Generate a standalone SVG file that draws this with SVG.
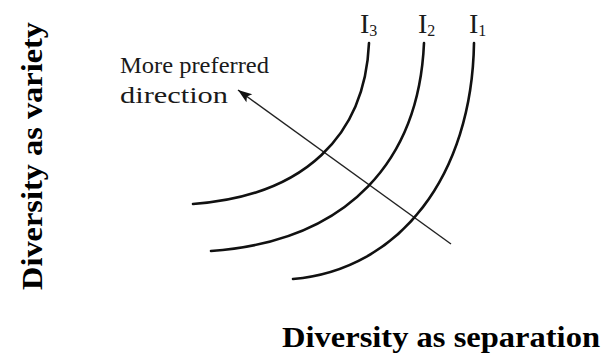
<svg xmlns="http://www.w3.org/2000/svg" width="603" height="358" viewBox="0 0 603 358">
<style>
.curve{fill:none;stroke:#111;stroke-width:2.6;stroke-linecap:round}
.arrow{fill:none;stroke:#222;stroke-width:1.4}
.lbl{font-family:"Liberation Serif",serif;fill:#1a1a1a}
.axis{font-family:"Liberation Serif",serif;font-weight:bold;fill:#000;font-size:30px}
</style>
<defs>
<marker id="ah" markerUnits="userSpaceOnUse" markerWidth="16" markerHeight="12" viewBox="-15 -6 16 12" refX="0" refY="0" orient="auto">
<path d="M0,0 L-14,-5 L-11,0 L-14,5 Z" fill="#111"/>
</marker>
</defs>
<rect width="603" height="358" fill="#fff"/>
<g id="connectors">
<line class="arrow" x1="451" y1="244" x2="238" y2="90" marker-end="url(#ah)"/>
</g>
<g id="curve-I3">
<path class="curve" d="M369,43 C365,135 305,196 193,204"/>
<text class="lbl" x="360" y="33" font-size="28">I<tspan font-size="16" dy="3">3</tspan></text>
</g>
<g id="curve-I2">
<path class="curve" d="M424,43 C419,158 351,241 211,251"/>
<text class="lbl" x="418" y="33" font-size="28">I<tspan font-size="16" dy="3">2</tspan></text>
</g>
<g id="curve-I1">
<path class="curve" d="M474,43 C472,175 400,270 293,279"/>
<text class="lbl" x="469" y="33" font-size="28">I<tspan font-size="16" dy="3">1</tspan></text>
</g>
<g id="label-direction">
<text class="lbl" x="120" y="73" font-size="24" textLength="149" lengthAdjust="spacingAndGlyphs">More preferred</text>
<text class="lbl" x="120" y="103" font-size="24" textLength="108" lengthAdjust="spacingAndGlyphs">direction</text>
</g>
<g id="axis-y">
<text class="axis" transform="translate(42,156) rotate(-90)" text-anchor="middle" textLength="268" lengthAdjust="spacingAndGlyphs">Diversity as variety</text>
</g>
<g id="axis-x">
<text class="axis" x="282" y="347" textLength="318" lengthAdjust="spacingAndGlyphs">Diversity as separation</text>
</g>
</svg>
